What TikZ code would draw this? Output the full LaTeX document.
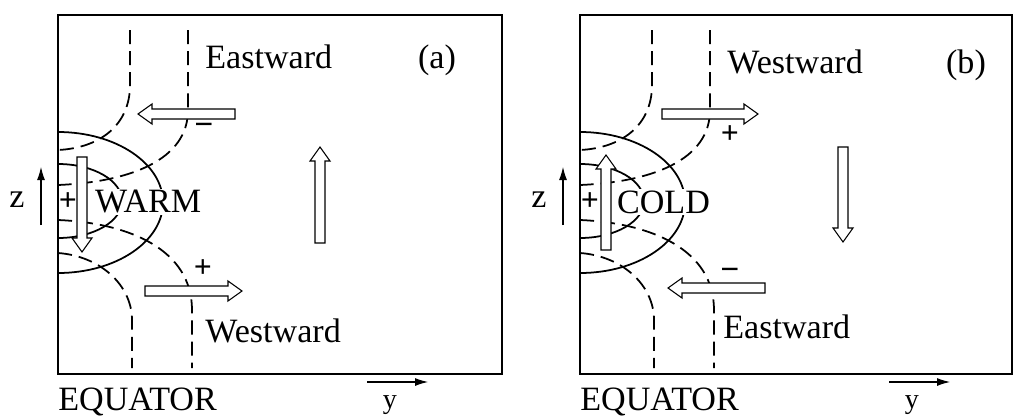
\documentclass[tikz,border=0pt]{standalone}
\usepackage{fontspec}
\setmainfont{Liberation Serif}
\usetikzlibrary{arrows.meta}

\begin{document}
\begin{tikzpicture}[x=0.02cm,y=-0.02cm]

    \tikzset{
      panelbox/.style={line width=1.1pt},
      contour/.style={line width=1pt},
      isoline/.style={line width=1pt, dash pattern=on 8pt off 4pt},
      arrowbody/.style={draw, fill=white, line width=0.6pt},
      lbl/.style={font=\fontsize{19.4}{23}\selectfont, inner sep=0pt},
      sgn/.style={font=\fontsize{18}{20}\selectfont\bfseries, inner sep=0pt},
      neg/.style={font=\fontsize{19}{21}\selectfont\bfseries, inner sep=0pt},
      axislbl/.style={font=\fontsize{16}{18}\selectfont, inner sep=0pt},
      axis/.style={line width=0.6pt, -{Latex[length=0.26cm,width=0.16cm]}},
      pics/hollow/.style={code={
        \filldraw[arrowbody] (0,-5) -- (#1-14,-5) -- (#1-14,-10) -- (#1,0)
          -- (#1-14,10) -- (#1-14,5) -- (0,5) -- cycle;
      }}
    }

    \useasboundingbox (0,0) rectangle (1014,416);

    % parts shared by both panels
    \foreach \dx/\p/\w in {0/a/444,522/b/432} {
      \begin{scope}[shift={(\dx,0)}]
        \draw[panelbox] (58,15) rectangle ++(\w,359);
        \draw[contour] (58,132) arc[start angle=-90, end angle=90, x radius=105, y radius=70.5];
        \draw[contour] (58,164) arc[start angle=-90, end angle=90, x radius=64, y radius=37];
        \draw[isoline] (130,30) -- (130,85) .. controls (130,125) and (100,148) .. (58,150);
        \draw[isoline] (188,30) -- (188,110) .. controls (188,160) and (130,182) .. (58,185);
        \draw[isoline] (58,220) .. controls (130,223) and (192,250) .. (192,310) -- (192,368);
        \draw[isoline] (58,253) .. controls (100,256) and (132,285) .. (132,320) -- (132,368);

        \node[lbl] (z-\p) at (17,200) {z};
        \coordinate (zfoot-\p) at (41,225);
        \coordinate (ztip-\p) at (41,167);
        \draw[axis] (zfoot-\p) -- (ztip-\p);

        \node[lbl, anchor=base west] (eq-\p) at (58,410) {EQUATOR};
        \coordinate (yfoot-\p) at (367,382);
        \coordinate (ytip-\p) at (428,382);
        \draw[axis] (yfoot-\p) -- (ytip-\p);
        \node[axislbl, anchor=base] (y-\p) at (390,408) {y};

        \node[sgn] (wallsign-\p) at (68,202) {+};
      \end{scope}
    }

    % (a) warm anomaly
    \node[lbl, fill=white, inner sep=1pt, anchor=west] (warm) at (93,202) {WARM};
    \node[lbl, anchor=base west] (east-a) at (205,68) {Eastward};
    \node[lbl, anchor=base] (tag-a) at (437,68) {(a)};
    \node[lbl, anchor=base west] (west-a) at (205,342) {Westward};
    \node[neg] (minus-a) at (204,129) {−};
    \node[sgn] (plus-a) at (203,269) {+};
    \pic[rotate=180] at (235,114) {hollow=97};
    \pic at (145,291) {hollow=97};
    \pic[rotate=90] at (320,243) {hollow=96};
    \pic[rotate=-90] at (82,157) {hollow=95};

    % (b) cold anomaly
    \node[lbl, fill=white, inner sep=1pt, anchor=west] (cold) at (615,202) {COLD};
    \node[lbl, anchor=base west] (west-b) at (727,73) {Westward};
    \node[lbl, anchor=base] (tag-b) at (966,73) {(b)};
    \node[lbl, anchor=base west] (east-b) at (723,338) {Eastward};
    \node[sgn] (plus-b) at (730,135) {+};
    \node[neg] (minus-b) at (730,274) {−};
    \pic at (662,114) {hollow=96};
    \pic[rotate=180] at (765,288) {hollow=97};
    \pic[rotate=-90] at (843,147) {hollow=95};
    \pic[rotate=90] at (606,250) {hollow=95};

\end{tikzpicture}
\end{document}
